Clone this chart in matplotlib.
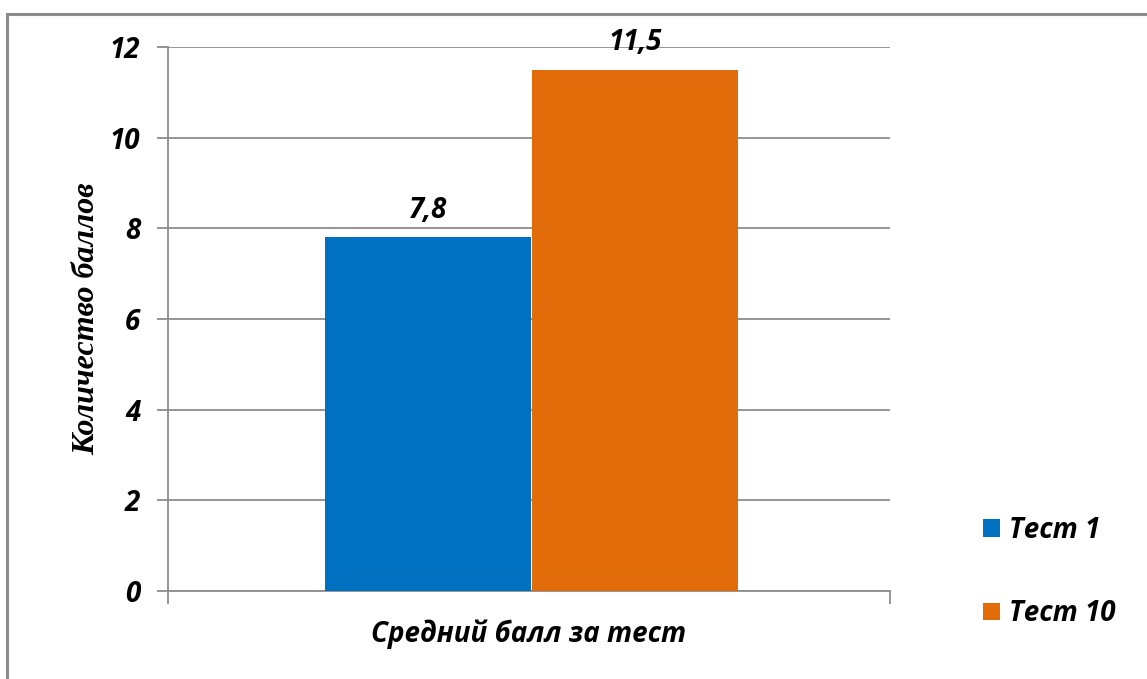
import matplotlib.pyplot as plt
from matplotlib.lines import Line2D

# данные
category = "Средний балл за тест"
series = ["Тест 1", "Тест 10"]
values = [7.8, 11.5]
labels = ["7,8", "11,5"]
colors = ["#0070C0", "#E36C0A"]
yticks = [0, 2, 4, 6, 8, 10, 12]

FONT = 'Open Sans'
fs = 20

fig = plt.figure(figsize=(11.47, 6.79), dpi=100)
ax = fig.add_axes([168/1147, 1-591/679, 722/1147, 544/679])

W = 0.2853
xpos = [0.36, 0.6468]
bars = []
for i in range(len(series)):
    b = ax.bar(xpos[i], values[i], width=W, color=colors[i], label=series[i],
               linewidth=0, zorder=3)
    bars.append(b)
    ax.text(xpos[i], values[i] + 0.28, labels[i], ha='center', va='bottom',
            fontsize=fs, fontweight='bold', fontstyle='italic', family=FONT)

ax.set_xlim(0, 1)
ax.set_ylim(0, 12)
ax.set_yticks(yticks)
ax.set_yticklabels([str(t) for t in yticks], fontsize=fs, fontweight='bold',
                   fontstyle='italic', family=FONT)
ax.yaxis.grid(True, color='#8c8c8c', lw=1.3, zorder=0)
ax.tick_params(axis='y', length=8, width=1.3, color='#8c8c8c', pad=12)
ax.set_xticks([0, 1])
ax.set_xticklabels(['', ''])
ax.tick_params(axis='x', length=9, width=1.3, color='#8c8c8c', direction='out')
for s in ['top', 'right']:
    ax.spines[s].set_visible(False)
for s in ['left', 'bottom']:
    ax.spines[s].set_color('#8c8c8c')
    ax.spines[s].set_linewidth(1.3)

ax.set_xlabel(category, fontsize=fs, fontweight='bold', fontstyle='italic',
              family=FONT, labelpad=8)
ax.set_ylabel("Количество баллов", fontsize=23, fontweight='bold', fontstyle='italic',
              family='Liberation Serif', labelpad=6)

leg = fig.legend(handles=[b[0] for b in bars], labels=series, loc='upper left',
                 bbox_to_anchor=(958/1147, 1-491/679), frameon=False,
                 prop={'family': FONT, 'weight': 'bold', 'style': 'italic', 'size': fs},
                 handlelength=0.6, handleheight=0.6, handletextpad=0.35, labelspacing=1.95)

# рамка
fig.add_artist(Line2D([7.5/1147, 1], [1-13.5/679, 1-13.5/679], color='#8c8c8c', lw=2.2))
fig.add_artist(Line2D([7.5/1147, 7.5/1147], [0, 1-13.5/679], color='#8c8c8c', lw=2.2))

fig.savefig('out.png', dpi=100)
